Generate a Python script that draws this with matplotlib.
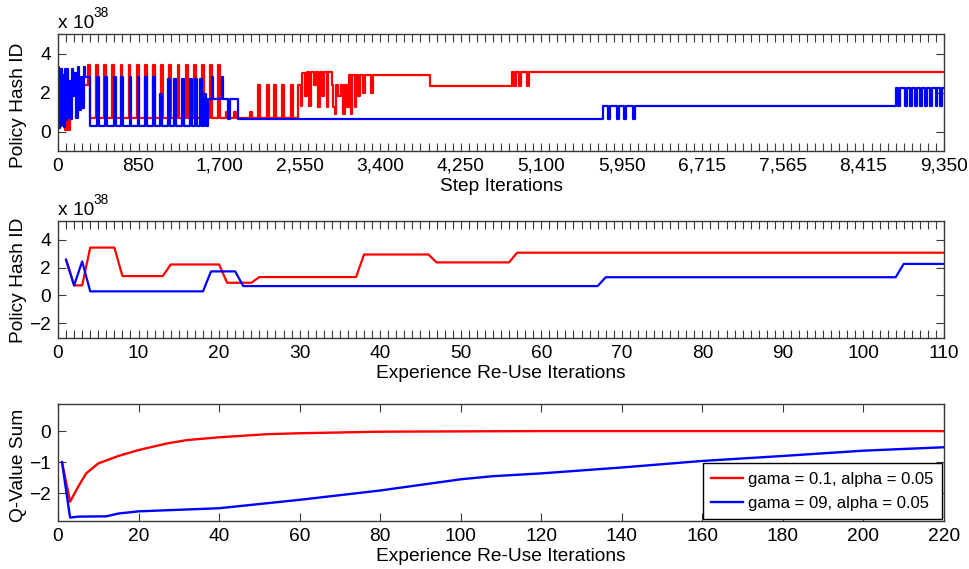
import matplotlib
matplotlib.use('Agg')
import matplotlib.pyplot as plt
import matplotlib.transforms as mtransforms
from matplotlib.ticker import MultipleLocator, FixedLocator

plt.rcParams['font.family'] = ['Liberation Sans', 'DejaVu Sans']

# ---- top panel: policy hash id per step (x 1e38), read as (step, value) breakpoints
red_top = [
    (0, 2.6), (10, 0.5), (20, 3.2), (30, 0.3), (40, 2.9), (55, 1.2), (70, 0.1), (95, 2.0),
    (105, 0.1), (125, 2.4), (180, 1.8), (195, 2.4),
    (320, 3.4), (340, 0.7), (405, 3.4), (425, 0.7), (490, 3.4), (510, 0.7), (575, 3.4), (595, 0.7),
    (660, 3.4), (680, 0.7), (745, 3.4), (765, 0.7), (830, 3.4), (850, 0.7), (915, 3.4), (935, 0.7),
    (1000, 3.4), (1020, 0.7), (1090, 3.4), (1110, 0.7), (1175, 3.4), (1195, 0.7), (1262, 3.4),
    (1282, 0.7), (1350, 3.4), (1370, 0.7), (1438, 3.4), (1458, 0.7), (1516, 3.4), (1536, 0.7),
    (1604, 3.4), (1624, 0.7), (1690, 3.4), (1710, 0.7),
    (1775, 1.0), (1795, 0.7), (1855, 1.0), (1875, 0.7), (2030, 1.0), (2050, 0.7),
    (2114, 2.4), (2134, 0.7), (2202, 2.4), (2222, 0.7), (2283, 2.4), (2303, 0.7), (2367, 2.4),
    (2387, 0.7), (2455, 2.4), (2475, 0.7),
    (2536, 2.4), (2560, 1.3), (2580, 3.0), (2610, 1.8), (2630, 3.05), (2650, 1.3), (2665, 3.05),
    (2700, 2.4), (2720, 3.05), (2745, 1.25), (2760, 3.05), (2790, 1.8), (2810, 3.05), (2835, 1.25),
    (2850, 3.05), (2888, 2.4), (2905, 1.25), (2920, 0.9), (2935, 2.4), (2960, 1.8), (2985, 2.4),
    (3010, 0.9), (3025, 2.4), (3050, 1.25), (3070, 2.9), (3090, 0.9), (3105, 2.9), (3130, 1.25),
    (3150, 2.9), (3170, 1.8), (3190, 2.9), (3220, 2.0), (3240, 2.9), (3300, 2.0), (3320, 2.9),
    (3925, 2.32), (4787, 3.06), (4815, 2.32), (4830, 3.06), (4870, 2.32), (4890, 3.06),
    (4950, 2.32), (4975, 3.06), (9350, 3.06),
]
blue_top = [
    (0, 3.3), (8, 0.2), (16, 3.1), (24, 0.3), (32, 3.2), (42, 0.4), (52, 2.9), (62, 0.25),
    (72, 3.2), (84, 0.6), (96, 3.2), (108, 0.7), (120, 2.6), (132, 0.65), (146, 3.2), (160, 1.8),
    (174, 3.0), (190, 0.7), (206, 3.3), (222, 1.1), (238, 2.8), (252, 1.2), (270, 3.3), (285, 2.8),
    (340, 0.26), (415, 2.8), (435, 0.26), (500, 2.8), (520, 0.26), (590, 2.8), (610, 0.26),
    (670, 2.8), (690, 0.26), (755, 2.8), (775, 0.26), (840, 2.8), (860, 0.26), (918, 2.8),
    (938, 0.26), (1000, 2.8), (1020, 0.26), (1080, 1.9), (1100, 0.26), (1165, 2.7), (1185, 0.26),
    (1220, 2.7), (1240, 0.26), (1305, 2.7), (1325, 0.26), (1390, 2.7), (1410, 0.26), (1446, 2.7),
    (1466, 0.26), (1500, 2.7), (1520, 0.26), (1545, 1.9), (1560, 0.26),
    (1586, 1.65), (1620, 2.8), (1635, 1.65), (1727, 2.8), (1742, 1.65), (1797, 0.63), (1815, 1.65),
    (1895, 0.63),
    (5755, 1.29), (5808, 0.63), (5830, 1.29), (5896, 0.63), (5918, 1.29), (5973, 0.63),
    (5995, 1.29), (6064, 0.63), (6086, 1.29),
    (8843, 2.25), (8868, 1.29), (8885, 2.25), (8938, 1.29), (8955, 2.25), (8991, 1.29),
    (9008, 2.25), (9044, 1.29), (9061, 2.25), (9097, 1.29), (9114, 2.25), (9150, 1.29),
    (9167, 2.25), (9202, 1.29), (9220, 2.25), (9266, 1.29), (9280, 2.25), (9308, 1.29),
    (9326, 2.25), (9350, 2.25),
]
step_ticks = [0, 850, 1700, 2550, 3400, 4250, 5100, 5950, 6800, 7650, 8500, 9350]
step_labels = ['0', '850', '1,700', '2,550', '3,400', '4,250', '5,100', '5,950',
               '6,715', '7,565', '8,415', '9,350']

# ---- middle panel: policy hash id per re-use iteration (corner points)
red_iter = [1, 2, 3, 4, 7, 8, 13, 14, 20, 21, 24, 25, 37, 38, 46, 47, 56, 57, 110]
red_mid = [2.57, 0.72, 0.72, 3.45, 3.45, 1.39, 1.39, 2.23, 2.23, 0.91, 0.91, 1.32, 1.32,
           2.95, 2.95, 2.38, 2.38, 3.08, 3.08]
blue_iter = [1, 2, 3, 4, 18, 19, 22, 23, 67, 68, 104, 105, 110]
blue_mid = [2.57, 0.72, 2.45, 0.29, 0.29, 1.73, 1.73, 0.67, 0.67, 1.31, 1.31, 2.27, 2.27]

# ---- bottom panel: Q-value sum
red_q_x = [1, 3, 5, 7, 10, 15, 20, 27, 32, 40, 52, 60, 80, 100, 120, 220]
red_q = [-1.0, -2.27, -1.79, -1.36, -1.04, -0.8, -0.61, -0.40, -0.29, -0.2, -0.1, -0.07,
         -0.02, -0.01, 0.0, 0.0]
blue_q_x = [1, 3, 5, 12, 15, 20, 40, 60, 80, 100, 108, 120, 140, 160, 180, 200, 220]
blue_q = [-1.0, -2.78, -2.75, -2.74, -2.65, -2.58, -2.48, -2.21, -1.91, -1.55, -1.45, -1.36,
          -1.17, -0.96, -0.80, -0.63, -0.52]
legend_labels = ['gama = 0.1, alpha = 0.05', 'gama = 09, alpha = 0.05']

RED = '#ff0000'
BLUE = '#0000ff'
EDGE = '#3a3a3a'
FS = 13.8

fig = plt.figure(figsize=(9.69, 5.69), dpi=100)
W, H = 969.0, 569.0
ax1 = fig.add_axes([58 / W, (H - 151) / H, 886 / W, 117 / H])
ax2 = fig.add_axes([58 / W, (H - 338) / H, 886 / W, 117 / H])
ax3 = fig.add_axes([58 / W, (H - 521.3) / H, 886 / W, 117.3 / H])


def matlab_style(ax):
    for s in ax.spines.values():
        s.set_color(EDGE)
        s.set_linewidth(1.0)
    ax.tick_params(which='both', direction='in', top=True, right=True, length=5.5,
                   width=0.8, color=EDGE, labelsize=FS, pad=5)


def exponent(ax):
    t1 = mtransforms.offset_copy(ax.transAxes, fig=fig, x=0, y=6, units='dots')
    ax.text(0, 1, 'x 10', transform=t1, fontsize=FS, ha='left', va='baseline')
    t2 = mtransforms.offset_copy(ax.transAxes, fig=fig, x=36, y=17, units='dots')
    ax.text(0, 1, '38', transform=t2, fontsize=9.8, ha='left', va='baseline')


# top
rx, ry = zip(*red_top)
bx, by = zip(*blue_top)
ax1.plot(rx, ry, color=RED, lw=1.6, drawstyle='steps-post')
ax1.plot(bx, by, color=BLUE, lw=1.6, drawstyle='steps-post')
ax1.set_xlim(0, 9350)
ax1.set_ylim(-1, 5)
ax1.set_yticks([0, 2, 4])
ax1.xaxis.set_major_locator(FixedLocator(step_ticks))
ax1.set_xticklabels(step_labels)
ax1.xaxis.set_minor_locator(MultipleLocator(85))
matlab_style(ax1)
ax1.set_xlabel('Step Iterations', fontsize=FS, labelpad=2)
ax1.set_ylabel('Policy Hash ID', fontsize=FS)
ax1.yaxis.set_label_coords(-0.035, 0.39)
exponent(ax1)

# middle
ax2.plot(red_iter, red_mid, color=RED, lw=1.6)
ax2.plot(blue_iter, blue_mid, color=BLUE, lw=1.6)
ax2.set_xlim(0, 110)
ax2.set_ylim(-3.08, 5.37)
ax2.set_yticks([-2, 0, 2, 4])
ax2.xaxis.set_major_locator(MultipleLocator(10))
ax2.xaxis.set_minor_locator(MultipleLocator(1))
matlab_style(ax2)
ax2.set_xlabel('Experience Re-Use Iterations', fontsize=FS, labelpad=2)
ax2.set_ylabel('Policy Hash ID', fontsize=FS)
ax2.yaxis.set_label_coords(-0.035, 0.49)
exponent(ax2)

# bottom
ax3.plot(red_q_x, red_q, color=RED, lw=1.7, label=legend_labels[0])
ax3.plot(blue_q_x, blue_q, color=BLUE, lw=1.7, label=legend_labels[1])
ax3.set_xlim(0, 220)
ax3.set_ylim(-2.9, 0.87)
ax3.set_yticks([-2, -1, 0])
ax3.xaxis.set_major_locator(MultipleLocator(20))
matlab_style(ax3)
ax3.set_xlabel('Experience Re-Use Iterations', fontsize=FS, labelpad=2)
ax3.set_ylabel('Q-Value Sum', fontsize=FS)
ax3.yaxis.set_label_coords(-0.035, 0.48)
leg = ax3.legend(loc='lower right', bbox_to_anchor=(0.9975, 0.017), borderaxespad=0,
                 fontsize=12, fancybox=False, framealpha=1, edgecolor='black',
                 handlelength=1.9, handletextpad=0.3, labelspacing=0.55, borderpad=0.5)
leg.get_frame().set_linewidth(1.0)

fig.savefig('out.png', dpi=100)
